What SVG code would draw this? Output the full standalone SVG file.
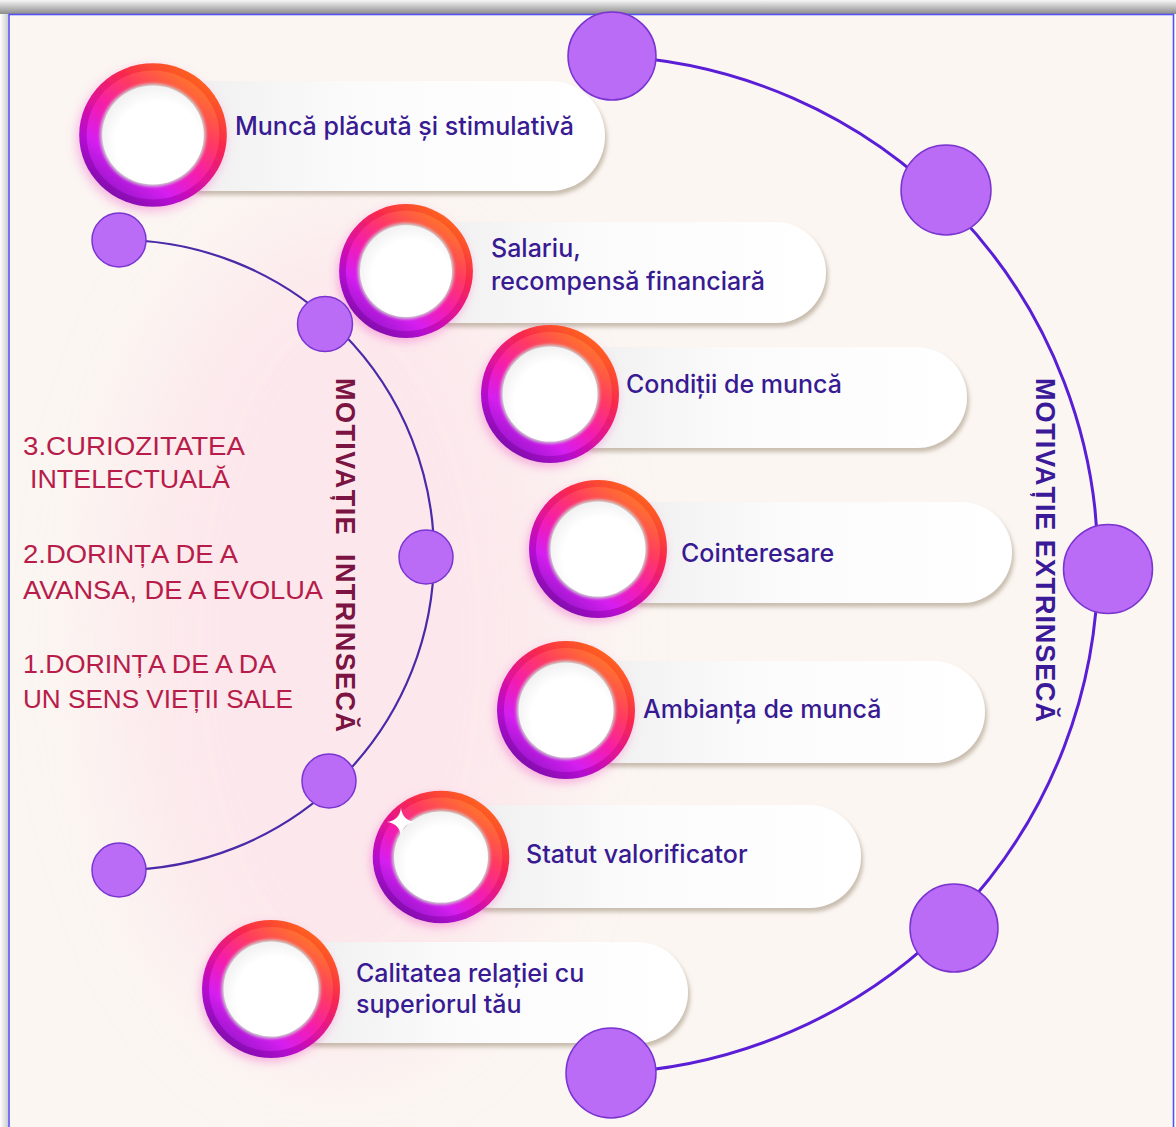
<svg xmlns="http://www.w3.org/2000/svg" xmlns:xlink="http://www.w3.org/1999/xlink" width="1176" height="1127" viewBox="0 0 1176 1127">
  <style>
    .pill { fill: url(#pillFill); filter: url(#pillShadow); }
    .label { font-family: Inter, "Noto Sans", "Liberation Sans", sans-serif; font-weight: 500; font-size: 25px; fill: #381a92; }
    .factor { font-family: "Liberation Sans", Arial, sans-serif; font-size: 25px; fill: #b71c4a; white-space: pre; }
    .axis { font-family: "Liberation Sans", Arial, sans-serif; font-weight: 700; font-size: 27px; white-space: pre; }
    .dot { fill: #bb6cf7; stroke: #7a35d0; stroke-width: 1.5; }
    .arc { fill: none; }
  </style>
  <defs>
    <linearGradient id="topShade" x1="0" y1="0" x2="0" y2="1">
      <stop offset="0" stop-color="#f6f6f6"/>
      <stop offset="1" stop-color="#8c8c8c"/>
    </linearGradient>
    <linearGradient id="leftShade" x1="0" y1="0" x2="1" y2="0">
      <stop offset="0" stop-color="#ffffff"/>
      <stop offset="1" stop-color="#cfcfcf"/>
    </linearGradient>
    <linearGradient id="pillFill" x1="0" y1="0" x2="1" y2="0">
      <stop offset="0" stop-color="#eeeded"/>
      <stop offset="0.45" stop-color="#fbfbfb"/>
      <stop offset="1" stop-color="#ffffff"/>
    </linearGradient>
    <linearGradient id="ringOuter" x1="0.85" y1="0.08" x2="0.2" y2="0.95">
      <stop offset="0" stop-color="#ff6a16"/>
      <stop offset="0.3" stop-color="#f8284e"/>
      <stop offset="0.55" stop-color="#e0129a"/>
      <stop offset="0.78" stop-color="#b30fd0"/>
      <stop offset="1" stop-color="#7a0ea8"/>
    </linearGradient>
    <linearGradient id="ringInner" x1="0.85" y1="0.08" x2="0.2" y2="0.95">
      <stop offset="0" stop-color="#ff7a26"/>
      <stop offset="0.3" stop-color="#ff3a62"/>
      <stop offset="0.55" stop-color="#f41cae"/>
      <stop offset="0.78" stop-color="#d61ef0"/>
      <stop offset="1" stop-color="#9a16cc"/>
    </linearGradient>
    <radialGradient id="diskFill" cx="0.55" cy="0.58" r="0.6">
      <stop offset="0.7" stop-color="#ffffff"/>
      <stop offset="1" stop-color="#f0f0f0"/>
    </radialGradient>
    <filter id="pillShadow" x="-10%" y="-20%" width="120%" height="150%">
      <feDropShadow dx="2" dy="4" stdDeviation="2.2" flood-color="#9c8c76" flood-opacity="0.55"/>
    </filter>
    <filter id="ringGlow" x="-30%" y="-30%" width="160%" height="160%">
      <feDropShadow dx="-2" dy="4" stdDeviation="5" flood-color="#f060c8" flood-opacity="0.45"/>
    </filter>
    <filter id="diskEdge" x="-20%" y="-20%" width="140%" height="140%">
      <feGaussianBlur stdDeviation="1.6"/>
    </filter>
    <filter id="haze" x="-50%" y="-50%" width="200%" height="200%">
      <feGaussianBlur stdDeviation="45"/>
    </filter>
    <!-- gradient ring with white centre, drawn at radius 69 around the origin -->
    <g id="ring">
      <circle r="69" fill="url(#ringOuter)" filter="url(#ringGlow)"/>
      <circle r="62" fill="url(#ringInner)"/>
      <circle r="49.5" fill="#cdcdcd" filter="url(#diskEdge)"/>
      <circle r="47.5" fill="url(#diskFill)"/>
    </g>
  </defs>

  <!-- frame -->
  <rect x="0" y="0" width="1176" height="1127" fill="#ffffff"/>
  <rect x="0" y="0" width="1176" height="14" fill="url(#topShade)"/>
  <rect x="0" y="14" width="8" height="1113" fill="url(#leftShade)"/>
  <rect x="9" y="14.5" width="1164.5" height="1120" fill="#fbf6f2" stroke="#5252f4" stroke-width="1.6"/>

  <!-- soft pink glow behind the intrinsic arc -->
  <ellipse cx="340" cy="640" rx="230" ry="420" fill="#fde4ea" opacity="0.75" filter="url(#haze)"/>

  <!-- connectors -->
  <g id="connectors">
    <path class="arc" d="M612,56 A509,509 0 0 1 611,1073" stroke="#5a1ed6" stroke-width="3"/>
    <path class="arc" d="M119,240 A315,315 0 0 1 119,870" stroke="#4a2aa8" stroke-width="2.2"/>
  </g>

  <!-- extrinsic factors -->
  <g id="node-munca-placuta">
    <rect class="pill" x="150" y="81" width="455" height="110" rx="55"/>
    <use xlink:href="#ring" transform="translate(153,135) scale(1.07,1.04)"/>
    <text class="label" x="235" y="135">Muncă plăcută și stimulativă</text>
  </g>
  <g id="node-salariu">
    <rect class="pill" x="400" y="222" width="426" height="101" rx="50.5"/>
    <use xlink:href="#ring" transform="translate(406,271) scale(0.97)"/>
    <text class="label" x="491" y="257">Salariu,</text>
    <text class="label" x="491" y="290">recompensă financiară</text>
  </g>
  <g id="node-conditii">
    <rect class="pill" x="545" y="347" width="422" height="101" rx="50.5"/>
    <use xlink:href="#ring" transform="translate(550,394)"/>
    <text class="label" x="626" y="393">Condiții de muncă</text>
  </g>
  <g id="node-cointeresare">
    <rect class="pill" x="595" y="502" width="417" height="101" rx="50.5"/>
    <use xlink:href="#ring" transform="translate(598,549)"/>
    <text class="label" x="681" y="562">Cointeresare</text>
  </g>
  <g id="node-ambianta">
    <rect class="pill" x="560" y="661" width="425" height="102" rx="51"/>
    <use xlink:href="#ring" transform="translate(566,710)"/>
    <text class="label" x="643" y="718">Ambianța de muncă</text>
  </g>
  <g id="node-statut">
    <rect class="pill" x="440" y="805" width="421" height="103" rx="51.5"/>
    <use xlink:href="#ring" transform="translate(441,857) scale(0.99,0.96)"/>
    <path d="M401,808 Q402.6,820.4 415,822 Q402.6,823.6 401,836 Q399.4,823.6 387,822 Q399.4,820.4 401,808Z" fill="#ffffff"/>
    <text class="label" x="526" y="863">Statut valorificator</text>
  </g>
  <g id="node-calitatea">
    <rect class="pill" x="270" y="942" width="418" height="101" rx="50.5"/>
    <use xlink:href="#ring" transform="translate(271,989)"/>
    <text class="label" x="356" y="982">Calitatea relației cu</text>
    <text class="label" x="356" y="1013">superiorul tău</text>
  </g>

  <!-- arc markers -->
  <g id="extrinsic-dots">
    <circle class="dot" cx="612" cy="56" r="44"/>
    <circle class="dot" cx="946" cy="190" r="45"/>
    <circle class="dot" cx="1108" cy="569" r="44.5"/>
    <circle class="dot" cx="954" cy="928" r="44"/>
    <circle class="dot" cx="611" cy="1073" r="45"/>
  </g>
  <g id="intrinsic-dots">
    <circle class="dot" cx="119" cy="240" r="27"/>
    <circle class="dot" cx="325" cy="324" r="27.5"/>
    <circle class="dot" cx="426" cy="557" r="27"/>
    <circle class="dot" cx="329" cy="781" r="27"/>
    <circle class="dot" cx="119" cy="870" r="27"/>
  </g>

  <!-- axis titles -->
  <text class="axis" fill="#7b1443" transform="translate(336,378) rotate(90)" textLength="354" lengthAdjust="spacing">MOTIVAȚIE  INTRINSECĂ</text>
  <text class="axis" fill="#3b1a9a" transform="translate(1036,378) rotate(90)" textLength="344" lengthAdjust="spacing">MOTIVAȚIE EXTRINSECĂ</text>

  <!-- intrinsic motives -->
  <g id="intrinsic-list">
    <text class="factor" x="23" y="455" textLength="222" lengthAdjust="spacingAndGlyphs">3.CURIOZITATEA</text>
    <text class="factor" x="30" y="488" textLength="200" lengthAdjust="spacingAndGlyphs">INTELECTUALĂ</text>
    <text class="factor" x="23" y="563" textLength="215" lengthAdjust="spacingAndGlyphs">2.DORINȚA DE A</text>
    <text class="factor" x="23" y="599" textLength="300" lengthAdjust="spacingAndGlyphs">AVANSA, DE A EVOLUA</text>
    <text class="factor" x="23" y="673" textLength="253" lengthAdjust="spacingAndGlyphs">1.DORINȚA DE A DA</text>
    <text class="factor" x="23" y="708" textLength="270" lengthAdjust="spacingAndGlyphs">UN SENS VIEȚII SALE</text>
  </g>
</svg>
